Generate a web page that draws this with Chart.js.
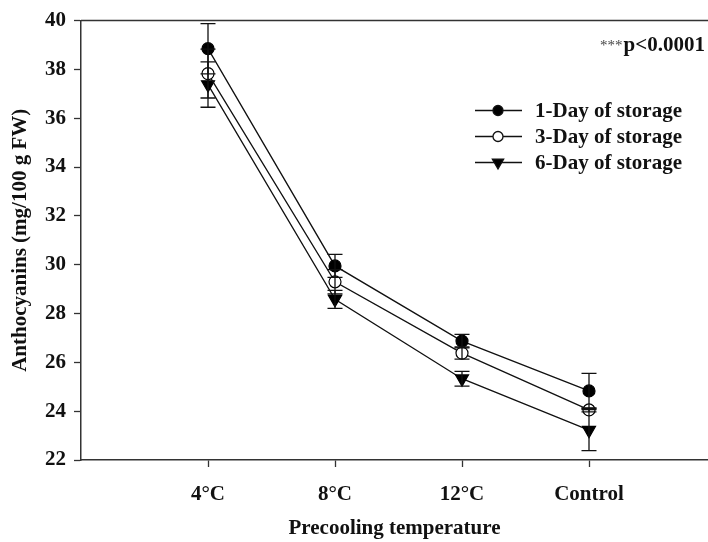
<!DOCTYPE html>
<html lang="en">
<head>
    <meta charset="UTF-8">
    <title>Anthocyanins vs precooling temperature</title>
    <script src="https://cdn.jsdelivr.net/npm/chart.js"></script>
    <style>
        body { margin: 0; background: #fff; }
    </style>
</head>
<body>
<canvas id="chart" width="708" height="542"></canvas>

<script>
    // data
    const temperatures = ['4°C', '8°C', '12°C', 'Control'];
    const seriesNames = ['1-Day of storage', '3-Day of storage', '6-Day of storage'];
    const day1 = [38.85, 29.95, 26.87, 24.83];
    const day3 = [37.83, 29.30, 26.38, 24.05];
    const day6 = [37.38, 28.58, 25.33, 23.22];
    const day1Err = [1.03, 0.47, 0.28, 0.72];
    const day3Err = [1.0, 0.5, 0.25, 0.08];
    const day6Err = [0.93, 0.37, 0.3, 0.84];
    const yTicks = [22, 24, 26, 28, 30, 32, 34, 36, 38, 40];
    const pLabel = 'p<0.0001';

    const FONT = '"Liberation Serif", "Times New Roman", serif';
    const INK = '#111';

    const values = [day1, day3, day6];
    const errors = [day1Err, day3Err, day6Err];
    const markers = [
        { pointStyle: 'circle', radius: 6, bg: '#000', rotation: 0 },
        { pointStyle: 'circle', radius: 6, bg: '#fff', rotation: 0 },
        { pointStyle: 'triangle', radius: 7.5, bg: '#000', rotation: 180 }
    ];

    const datasets = values.map((vals, s) => ({
        label: seriesNames[s],
        data: vals.map((v, i) => ({ x: i + 1, y: v })),
        err: errors[s],
        borderColor: INK,
        borderWidth: 1.3,
        pointStyle: markers[s].pointStyle,
        pointRadius: markers[s].radius,
        pointRotation: markers[s].rotation,
        pointBackgroundColor: markers[s].bg,
        pointBorderColor: '#000',
        pointBorderWidth: 1.2,
        fill: false,
        tension: 0
    }));

    // error bars, drawn with the chart's scales
    const errorBars = {
        id: 'errorBars',
        afterDatasetsDraw(chart) {
            const ctx = chart.ctx;
            const xs = chart.scales.x, ys = chart.scales.y;
            ctx.save();
            ctx.strokeStyle = INK;
            ctx.lineWidth = 1.3;
            chart.data.datasets.forEach(ds => {
                ds.data.forEach((p, i) => {
                    const px = xs.getPixelForValue(p.x);
                    const hi = ys.getPixelForValue(p.y + ds.err[i]);
                    const lo = ys.getPixelForValue(p.y - ds.err[i]);
                    ctx.beginPath();
                    ctx.moveTo(px, hi); ctx.lineTo(px, lo);
                    ctx.moveTo(px - 7.5, hi); ctx.lineTo(px + 7.5, hi);
                    ctx.moveTo(px - 7.5, lo); ctx.lineTo(px + 7.5, lo);
                    ctx.stroke();
                });
            });
            ctx.restore();
        }
    };

    function drawMarker(ctx, m, x, y) {
        ctx.beginPath();
        if (m.pointStyle === 'triangle') {
            const r = m.radius;
            ctx.moveTo(x, y + r);
            ctx.lineTo(x - r * 0.866, y - r * 0.5);
            ctx.lineTo(x + r * 0.866, y - r * 0.5);
            ctx.closePath();
        } else {
            ctx.arc(x, y, m.radius, 0, Math.PI * 2);
        }
        ctx.fillStyle = m.bg;
        ctx.fill();
        ctx.stroke();
    }

    // top frame line, legend box and significance note
    const extras = {
        id: 'extras',
        afterDraw(chart) {
            const ctx = chart.ctx;
            const a = chart.chartArea;
            ctx.save();
            ctx.strokeStyle = '#333';
            ctx.lineWidth = 1.5;
            ctx.beginPath();
            ctx.moveTo(a.left, a.top);
            ctx.lineTo(a.right, a.top);
            ctx.stroke();

            // legend
            ctx.lineWidth = 1.3;
            ctx.strokeStyle = INK;
            ctx.font = 'bold 21px ' + FONT;
            ctx.textBaseline = 'middle';
            ctx.textAlign = 'left';
            ctx.fillStyle = INK;
            seriesNames.forEach((name, s) => {
                const y = 110.5 + s * 26;
                ctx.beginPath();
                ctx.moveTo(475, y); ctx.lineTo(522, y);
                ctx.stroke();
                drawMarker(ctx, { ...markers[s], radius: markers[s].radius - 1 }, 498, y);
                ctx.fillStyle = INK;
                ctx.fillText(name, 535, y + 1);
            });

            // p value
            ctx.textAlign = 'right';
            ctx.textBaseline = 'alphabetic';
            ctx.font = 'bold 21px ' + FONT;
            ctx.fillText(pLabel, a.right - 3, 51);
            const w = ctx.measureText(pLabel).width;
            ctx.font = '15px ' + FONT;
            ctx.fillStyle = '#444';
            ctx.fillText('***', a.right - 3 - w - 1, 50);
            ctx.restore();
        }
    };

    new Chart(document.getElementById('chart'), {
        type: 'line',
        data: { datasets },
        options: {
            responsive: false,
            animation: false,
            layout: { autoPadding: false, padding: { top: 16, right: 0, left: 0, bottom: 0 } },
            plugins: { legend: { display: false }, tooltip: { enabled: false } },
            scales: {
                x: {
                    type: 'linear',
                    min: 0,
                    max: 4.937,
                    afterBuildTicks: s => { s.ticks = temperatures.map((t, i) => ({ value: i + 1 })); },
                    afterFit: s => { s.height = 82; },
                    ticks: {
                        callback: v => temperatures[v - 1],
                        color: INK,
                        font: { family: FONT, size: 21, weight: 'bold' },
                        padding: 15,
                        maxRotation: 0,
                        autoSkip: false
                    },
                    grid: { drawOnChartArea: false, tickLength: 7, color: '#333', tickWidth: 1.3 },
                    border: { color: '#333', width: 1.5 },
                    title: {
                        display: true,
                        text: 'Precooling temperature',
                        color: INK,
                        font: { family: FONT, size: 21, weight: 'bold' },
                        padding: { top: 0, bottom: 1 }
                    }
                },
                y: {
                    min: 22,
                    max: 40,
                    afterBuildTicks: s => { s.ticks = yTicks.map(v => ({ value: v })); },
                    afterFit: s => { s.width = 81; },
                    ticks: {
                        color: INK,
                        font: { family: FONT, size: 21, weight: 'bold' },
                        padding: 8
                    },
                    grid: { drawOnChartArea: false, tickLength: 7, color: '#333', tickWidth: 1.3 },
                    border: { color: '#333', width: 1.5 },
                    title: {
                        display: true,
                        text: 'Anthocyanins (mg/100 g FW)',
                        color: INK,
                        font: { family: FONT, size: 21, weight: 'bold' },
                        padding: { top: 8, bottom: 0 }
                    }
                }
            }
        },
        plugins: [errorBars, extras]
    });
</script>
</body>
</html>
